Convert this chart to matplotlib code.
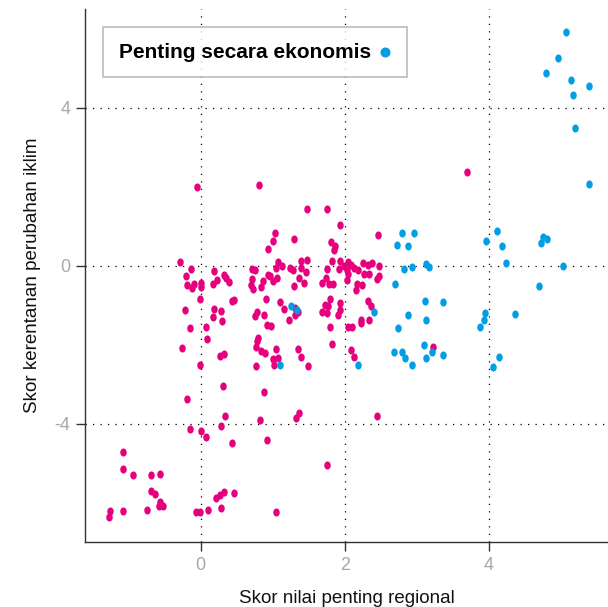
import matplotlib
matplotlib.use("Agg")
import matplotlib.pyplot as plt
from matplotlib.path import Path
from matplotlib.transforms import Affine2D

plt.rcParams['font.family'] = ['Liberation Sans', 'DejaVu Sans']
plt.rcParams['axes.unicode_minus'] = False

# regional (x) vs climate vulnerability (y), not economically important
pink_x = [-0.05, 0.81, 3.70,
          1.47, 1.76, 1.93, 1.03, 1.00, 1.30, 1.81, 1.87, 1.85, 2.46,
          1.07, 1.04, 1.13, 1.24, 1.28, 1.40, 1.47, 1.39, 1.46, 1.36, 1.43,
          1.29, 1.83, 1.94, 1.76, 1.74, 1.69, 1.78, 1.84, 1.92, 1.99, 2.05,
          2.03, 2.08, 2.05, 2.03, 2.13, 2.18, 2.25, 2.32, 2.38, 2.48, 2.27,
          2.33, 2.47, 2.45, 2.17, 2.24, 2.16, 1.79, 1.93, 1.72, 1.77, 1.69,
          1.75, 1.94, 1.91, 2.32, 2.36, 2.23, 2.33, 2.22, 1.80, 2.04, 2.10,
          1.82, 2.08, 2.13, 1.10, 1.16, 1.31, 1.31, 1.35, 1.22, 1.04, 1.07,
          1.01, 1.02, 1.35, 1.40, 1.49, 3.22,
          0.94, -0.28, -0.13, -0.20, -0.19, -0.12, -0.09, 0.01, 0.01, 0.19,
          0.23, 0.17, 0.33, 0.36, 0.40, 0.71, 0.75, 0.71, 0.70, 0.73, 0.87,
          0.84, 0.93, 0.97, 1.00, 1.06, -0.01, -0.22, -0.15, -0.25, 0.08,
          0.09, -0.01, 0.19, 0.18, 0.29, 0.30, 0.43, 0.46, 0.91, 0.79, 0.75,
          0.88, 0.92, 0.98, 0.80, 0.78, 0.77, 0.84, 0.90, 0.27, 0.33, 0.77,
          0.31, 0.88, -0.19, 0.34, 0.29, 0.82, 1.37, 1.33, -0.15, 0.00, 0.08,
          0.43, 0.92, 1.75, -1.08, -1.07, -0.93, -0.68, -0.56, -0.69, -0.63,
          -0.56, -0.58, -0.52, -0.74, -1.07, -1.26, -1.27, -0.06, -0.01, 0.10,
          0.29, 0.22, 0.27, 0.32, 0.46, 1.04, 2.45]
pink_y = [2.00, 2.04, 2.38,
          1.43, 1.43, 1.03, 0.82, 0.62, 0.67, 0.59, 0.51, 0.39, 0.77,
          0.09, -0.06, -0.02, -0.05, -0.10, 0.13, 0.15, -0.06, -0.17, -0.31, -0.43,
          -0.52, 0.12, 0.12, -0.08, -0.30, -0.44, -0.46, -0.46, -0.08, 0.00, 0.09,
          -0.10, 0.03, -0.20, -0.37, -0.06, -0.12, 0.07, 0.03, 0.07, 0.00, -0.20,
          -0.20, -0.25, -0.34, -0.46, -0.48, -0.62, -0.84, -0.95, -0.99, -1.01, -1.17,
          -1.19, -1.11, -1.24, -0.90, -1.03, -1.37, -1.37, -1.44, -1.54, -1.54, -1.56,
          -1.99, -2.14, -2.30, -0.93, -1.10, -1.06, -1.26, -1.18, -1.38, -2.11, -2.34,
          -2.36, -2.52, -2.11, -2.31, -2.53, -2.07,
          0.43, 0.09, -0.08, -0.25, -0.48, -0.57, -0.46, -0.45, -0.53, -0.13,
          -0.35, -0.46, -0.24, -0.30, -0.41, -0.08, -0.12, -0.33, -0.48, -0.59, -0.38,
          -0.54, -0.23, -0.25, -0.40, -0.30, -0.84, -1.12, -1.59, -2.08, -1.55,
          -1.85, -2.51, -1.09, -1.29, -1.14, -1.39, -0.90, -0.86, -0.85, -1.17, -1.27,
          -1.26, -1.51, -1.53, -1.82, -1.90, -2.07, -2.17, -2.21, -2.28, -2.24, -2.53,
          -3.04, -3.19, -3.37, -3.81, -4.05, -3.92, -3.73, -3.86, -4.14, -4.18, -4.33,
          -4.48, -4.42, -5.06, -4.71, -5.15, -5.31, -5.31, -5.27, -5.71, -5.78,
          -5.99, -6.08, -6.09, -6.18, -6.21, -6.22, -6.36, -6.24, -6.25, -6.19,
          -6.14, -5.89, -5.82, -5.74, -5.76, -6.24, -3.81]

# economically important
blue_x = [5.07, 4.96, 4.79, 5.14, 5.38, 5.17, 5.19, 5.38,
          4.11, 3.96, 4.18, 4.75, 4.81, 4.72, 4.24, 5.03, 4.69, 3.36, 4.36,
          3.94, 3.93, 3.87, 3.36, 4.14, 4.06,
          2.79, 2.96, 2.73, 2.87, 2.82, 2.93, 3.13, 3.17, 2.69, 3.11, 2.41,
          2.87, 3.13, 2.74, 3.10, 3.21, 2.68, 2.80, 2.83, 3.12, 2.93, 2.19,
          1.10, 1.25, 1.34]
blue_y = [5.91, 5.26, 4.87, 4.71, 4.56, 4.33, 3.49, 2.06,
          0.88, 0.63, 0.49, 0.73, 0.68, 0.57, 0.07, -0.02, -0.51, -0.91, -1.23,
          -1.21, -1.37, -1.56, -2.27, -2.30, -2.56,
          0.84, 0.84, 0.53, 0.49, -0.08, -0.03, 0.04, -0.03, -0.46, -0.89, -1.17,
          -1.26, -1.38, -1.58, -2.00, -2.19, -2.19, -2.19, -2.34, -2.34, -2.51, -2.51,
          -2.51, -1.03, -1.12]

x_ticks = [0, 2, 4]
y_ticks = [-4, 0, 4]

PINK = '#e6007e'
BLUE = '#009fe3'

# slightly tall ellipse marker
circ = Path.unit_circle()
ellipse = circ.transformed(Affine2D().scale(0.8, 1.0))

fig = plt.figure(figsize=(6.08, 6.07), dpi=100)
ax = fig.add_axes([0.14, 0.107, 0.86, 0.878])

ax.scatter(pink_x, pink_y, s=34, marker=ellipse, color=PINK, linewidths=0, zorder=3)
ax.scatter(blue_x, blue_y, s=34, marker=ellipse, color=BLUE, linewidths=0, zorder=4,
           label='Penting secara ekonomis')

ax.set_xlim(-1.6, 5.65)
ax.set_ylim(-7.0, 6.5)
ax.set_xticks(x_ticks)
ax.set_yticks(y_ticks)

ax.grid(True, color='black', linestyle=(0, (1, 5)), linewidth=0.9)
ax.set_axisbelow(True)

for side in ['top', 'right']:
    ax.spines[side].set_visible(False)
for side in ['left', 'bottom']:
    ax.spines[side].set_color('#333333')
    ax.spines[side].set_linewidth(1.0)

ax.tick_params(direction='out', length=6.5, width=1.0, color='#333333',
               labelcolor='#a8a8a8', labelsize=13, pad=4)

ax.set_xlabel('Skor nilai penting regional', fontsize=13.5, color='#111111', labelpad=12)
ax.set_ylabel('Skor kerentanan perubahan iklim', fontsize=13.5, color='#111111', labelpad=10)

leg = ax.legend(loc='upper left', bbox_to_anchor=(0.034, 0.966), borderaxespad=0,
                markerfirst=False, fancybox=False, frameon=True, borderpad=0.75,
                handlelength=0.6, handletextpad=0.4,
                prop={'weight': 'bold', 'size': 15})
leg.get_frame().set_edgecolor('#aaaaaa')
leg.get_frame().set_linewidth(1.2)
handle = leg.legend_handles[0]
handle.set_paths([Path.unit_circle().transformed(Affine2D().scale(0.5))])
handle.set_sizes([52])

fig.savefig('out.png', dpi=100)
